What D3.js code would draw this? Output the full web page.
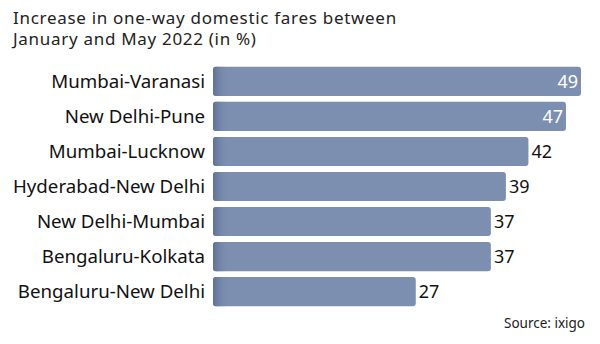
<!DOCTYPE html>
<html><head><meta charset="utf-8">
<script src="https://cdn.jsdelivr.net/npm/d3@7"></script>
<style>body{margin:0;background:#fff}svg{display:block}text{font-family:"Noto Sans",sans-serif}</style>
</head><body>
<svg id="c" width="600" height="344"></svg>
<script>
const categories = ["Mumbai-Varanasi","New Delhi-Pune","Mumbai-Lucknow","Hyderabad-New Delhi","New Delhi-Mumbai","Bengaluru-Kolkata","Bengaluru-New Delhi"];
const values = [49,47,42,39,37,37,27];
const titleLines = ["Increase in one-way domestic fares between","January and May 2022 (in %)"];
const source = "Source: ixigo";

const svg = d3.select("#c");
const defs = svg.append("defs");
const g = defs.append("linearGradient").attr("id","shade").attr("x1",0).attr("x2",1).attr("y1",0).attr("y2",0);
g.append("stop").attr("offset",0).attr("stop-color","#5f7194");
g.append("stop").attr("offset",1).attr("stop-color","#7d8fb0").attr("stop-opacity",0);

const x = d3.scaleLinear().domain([0,49]).range([213,581]);
const y = d3.scaleBand().domain(categories).range([64,309]).paddingInner(0.17).paddingOuter(0.08);

svg.append("g").selectAll("text").data(titleLines).join("text")
  .attr("x",13).attr("y",(d,i)=>24+i*21).attr("font-size",17).attr("letter-spacing",0.7)
  .attr("fill","#222").text(d=>d);

const bars = svg.append("g");
categories.forEach((c,i)=>{
  bars.append("rect").attr("x",x(0)).attr("y",y(c)).attr("width",x(values[i])-x(0)).attr("height",y.bandwidth())
    .attr("rx",3).attr("fill","#7d8fb0");
  bars.append("rect").attr("x",x(0)).attr("y",y(c)).attr("width",16).attr("height",y.bandwidth())
    .attr("rx",3).attr("fill","url(#shade)");
});

svg.append("g").selectAll("text").data(categories).join("text")
  .attr("x",205).attr("y",d=>y(d)+y.bandwidth()/2).attr("dy","0.35em").attr("text-anchor","end")
  .attr("font-size",18.7).attr("fill","#111").text(d=>d);

svg.append("g").selectAll("text").data(values).join("text")
  .attr("x",(d,i)=> d>=45 ? x(d)-3 : x(d)+3)
  .attr("y",(d,i)=>y(categories[i])+y.bandwidth()/2).attr("dy","0.35em")
  .attr("text-anchor",d=> d>=45 ? "end":"start")
  .attr("font-size",18).attr("fill",d=> d>=45 ? "#fff":"#111").text(d=>d);

svg.append("text").attr("x",585).attr("y",328).attr("text-anchor","end").attr("font-size",13.5).attr("fill","#222").text(source);
</script>
</body></html>
